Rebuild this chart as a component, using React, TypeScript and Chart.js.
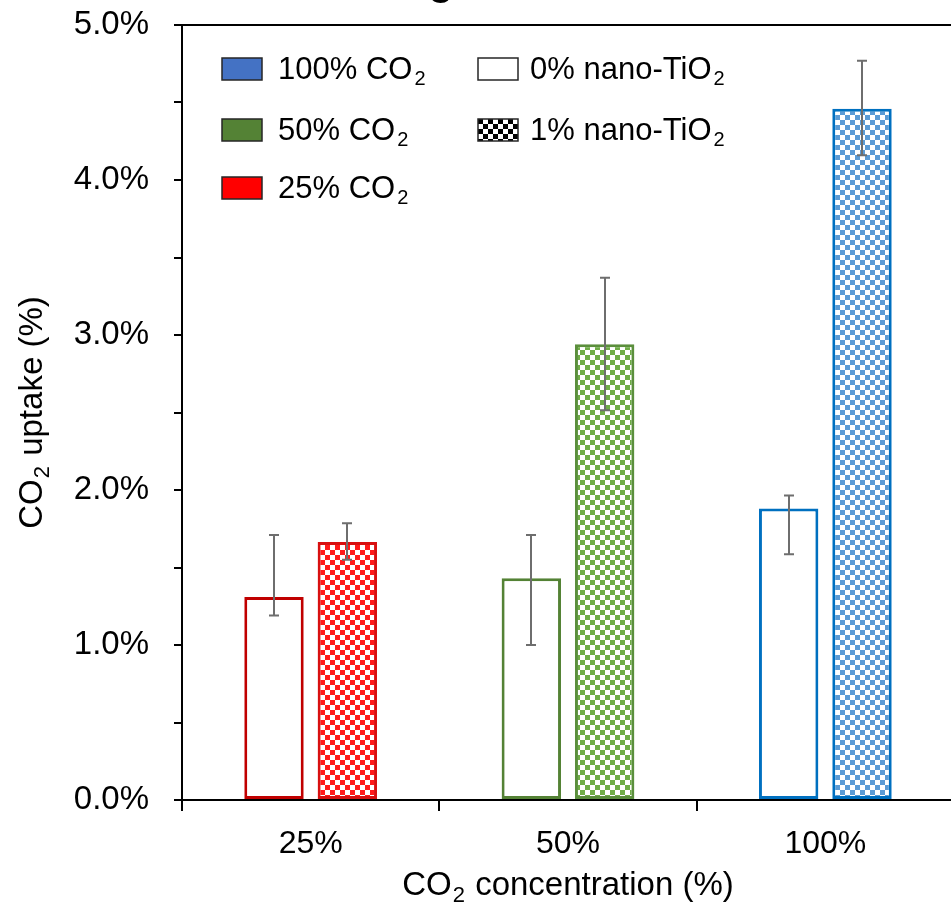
import React, { useEffect, useRef } from 'react';
import { Chart, registerables } from 'chart.js';
Chart.register(...registerables);

// ---- data ----
const categories = ['25%', '50%', '100%'];
const seriesNames = ['0% nano-TiO', '1% nano-TiO'];
const uptakeNoTiO2 = [1.31, 1.43, 1.88];
const uptakeTiO2 = [1.665, 2.94, 4.46];
const errLowNoTiO2 = [1.19, 1.0, 1.585];
const errHighNoTiO2 = [1.71, 1.71, 1.965];
const errLowTiO2 = [1.55, 2.515, 4.16];
const errHighTiO2 = [1.785, 3.37, 4.77];
const yMin = 0;
const yMax = 5;
const yStep = 0.5;
const co2Legend = ['100% CO', '50% CO', '25% CO'];

// ---- styles ----
const FONT = '"Liberation Sans", Arial, sans-serif';
const emptyBorders = ['#C00000', '#548235', '#0070C0'];
const checkBorders = ['#D81010', '#5B8F3D', '#0070C0'];
const checkFills = ['#FF1A1A', '#70AD47', '#5B9BD5'];
const legendFills = ['#4472C4', '#548235', '#FF0000'];

function makeChecker(color: string, cell: number, bg = '#FFFFFF') {
  const c = document.createElement('canvas');
  c.width = cell * 2;
  c.height = cell * 2;
  const g = c.getContext('2d')!;
  g.fillStyle = bg;
  g.fillRect(0, 0, cell * 2, cell * 2);
  g.fillStyle = color;
  g.fillRect(0, 0, cell, cell);
  g.fillRect(cell, cell, cell, cell);
  const ctx = document.createElement('canvas').getContext('2d')!;
  return ctx.createPattern(c, 'repeat')!;
}

function drawSub(
  ctx: CanvasRenderingContext2D,
  main: string,
  sub: string,
  x: number,
  y: number,
  size: number
) {
  const subSize = Math.round(size * 0.66);
  ctx.font = `${size}px ${FONT}`;
  const w1 = ctx.measureText(main).width;
  ctx.textAlign = 'left';
  ctx.textBaseline = 'middle';
  ctx.fillText(main, x, y);
  ctx.font = `${subSize}px ${FONT}`;
  ctx.fillText(sub, x + w1 + 2, y + size * 0.3);
}

function drawSplit(
  ctx: CanvasRenderingContext2D,
  main: string,
  sub: string,
  tail: string,
  x: number,
  y: number,
  size: number
) {
  const subSize = Math.round(size * 0.66);
  ctx.font = `${size}px ${FONT}`;
  const w1 = ctx.measureText(main).width;
  const w3 = ctx.measureText(tail).width;
  ctx.font = `${subSize}px ${FONT}`;
  const w2 = ctx.measureText(sub).width;
  const total = w1 + w2 + w3 + 2;
  const x0 = x - total / 2;
  ctx.textAlign = 'left';
  ctx.textBaseline = 'middle';
  ctx.font = `${size}px ${FONT}`;
  ctx.fillText(main, x0, y);
  ctx.fillText(tail, x0 + w1 + w2 + 2, y);
  ctx.font = `${subSize}px ${FONT}`;
  ctx.fillText(sub, x0 + w1 + 1, y + size * 0.3);
}

export default function App() {
  const ref = useRef<HTMLCanvasElement | null>(null);

  useEffect(() => {
    if (!ref.current) return;
    const patterns = checkFills.map((c) => makeChecker(c, 5));
    const errLow = [errLowNoTiO2, errLowTiO2];
    const errHigh = [errHighNoTiO2, errHighTiO2];

    const errorBars = {
      id: 'errorBars',
      afterDatasetsDraw(chart: any) {
        const ctx = chart.ctx;
        const ys = chart.scales.y;
        ctx.save();
        ctx.strokeStyle = '#6E6E6E';
        ctx.lineWidth = 2;
        chart.data.datasets.forEach((_: any, di: number) => {
          const meta = chart.getDatasetMeta(di);
          meta.data.forEach((bar: any, i: number) => {
            const x = Math.round(bar.x);
            const yl = ys.getPixelForValue(errLow[di][i]);
            const yh = ys.getPixelForValue(errHigh[di][i]);
            ctx.beginPath();
            ctx.moveTo(x, yl);
            ctx.lineTo(x, yh);
            ctx.moveTo(x - 5, yl);
            ctx.lineTo(x + 5, yl);
            ctx.moveTo(x - 5, yh);
            ctx.lineTo(x + 5, yh);
            ctx.stroke();
          });
        });
        ctx.restore();
      },
    };

    const decorations = {
      id: 'decorations',
      afterDraw(chart: any) {
        const ctx = chart.ctx;
        const area = chart.chartArea;
        ctx.save();
        ctx.fillStyle = '#000000';
        // cut-off title fragment
        ctx.font = `bold 40px ${FONT}`;
        ctx.textAlign = 'center';
        ctx.textBaseline = 'alphabetic';
        ctx.fillText('g', 441, -5.5);
        // axis titles
        drawSplit(ctx, 'CO', '2', ' concentration (%)', (area.left + area.right) / 2, 886, 33);
        ctx.save();
        ctx.translate(33, (area.top + area.bottom) / 2);
        ctx.rotate(-Math.PI / 2);
        drawSplit(ctx, 'CO', '2', ' uptake (%)', 0, 0, 33);
        ctx.restore();
        // legend
        const rows = [69, 130, 188];
        const bw = 40;
        const bh = 22;
        co2Legend.forEach((t, i) => {
          const y = rows[i];
          ctx.fillStyle = legendFills[i];
          ctx.fillRect(222, y - bh / 2, bw, bh);
          ctx.strokeStyle = '#262626';
          ctx.lineWidth = 1.5;
          ctx.strokeRect(222, y - bh / 2, bw, bh);
          ctx.fillStyle = '#000000';
          drawSub(ctx, t, '2', 278, y + 1, 31);
        });
        const legPatterns = [null, makeChecker('#000000', 5)];
        seriesNames.forEach((t, i) => {
          const y = rows[i];
          ctx.fillStyle = legPatterns[i] ? (legPatterns[i] as any) : '#FFFFFF';
          ctx.save();
          ctx.translate(478, y - bh / 2);
          ctx.fillRect(0, 0, bw, bh);
          ctx.strokeStyle = '#262626';
          ctx.lineWidth = 1.5;
          ctx.strokeRect(0, 0, bw, bh);
          ctx.restore();
          ctx.fillStyle = '#000000';
          drawSub(ctx, t, '2', 530, y + 1, 31);
        });
        ctx.restore();
      },
    };

    const chart = new Chart(ref.current, {
      type: 'bar',
      data: {
        labels: categories,
        datasets: [
          {
            label: seriesNames[0] + '2',
            data: uptakeNoTiO2,
            backgroundColor: '#FFFFFF',
            borderColor: emptyBorders,
            borderWidth: 3,
            borderSkipped: false,
            categoryPercentage: 0.57,
            barPercentage: 0.81,
          },
          {
            label: seriesNames[1] + '2',
            data: uptakeTiO2,
            backgroundColor: patterns as any,
            borderColor: checkBorders,
            borderWidth: 3,
            borderSkipped: false,
            categoryPercentage: 0.57,
            barPercentage: 0.81,
          },
        ],
      },
      options: {
        responsive: false,
        devicePixelRatio: 1,
        animation: false,
        layout: { padding: { top: 25, left: 0, right: 0, bottom: 0 } },
        plugins: {
          legend: { display: false },
          tooltip: { enabled: false },
          title: { display: false },
        },
        scales: {
          x: {
            afterFit(scale: any) {
              scale.height = 108;
              scale.paddingLeft = 0;
              scale.paddingRight = 0;
            },
            grid: {
              offset: true,
              drawOnChartArea: false,
              drawTicks: true,
              tickLength: 11,
              color: '#000000',
              lineWidth: 2,
            },
            border: { display: true, color: '#000000', width: 2 },
            ticks: {
              color: '#000000',
              font: { family: FONT, size: 32 },
              padding: 14,
              maxRotation: 0,
            },
          },
          y: {
            min: yMin,
            max: yMax,
            afterFit(scale: any) {
              scale.width = 182;
              scale.paddingTop = 0;
              scale.paddingBottom = 0;
            },
            grid: {
              drawOnChartArea: true,
              drawTicks: true,
              tickLength: 8,
              color: (c: any) => (c.tick && c.tick.value === yMax ? '#000000' : 'rgba(0,0,0,0)'),
              tickColor: '#000000',
              lineWidth: 2,
            },
            border: { display: true, color: '#000000', width: 2 },
            ticks: {
              stepSize: yStep,
              color: '#000000',
              font: { family: FONT, size: 33 },
              padding: 25,
              autoSkip: false,
              callback: (v: any) => (Number(v) % 1 === 0 ? Number(v).toFixed(1) + '%' : ''),
            },
          },
        },
      },
      plugins: [errorBars, decorations],
    });
    return () => chart.destroy();
  }, []);

  return (
    <div
      style={{
        position: 'absolute',
        left: 0,
        top: 0,
        width: 951,
        height: 908,
        overflow: 'hidden',
        background: '#FFFFFF',
      }}
    >
      <canvas ref={ref} width={954} height={908} style={{ display: 'block', width: 954, height: 908 }} />
    </div>
  );
}
